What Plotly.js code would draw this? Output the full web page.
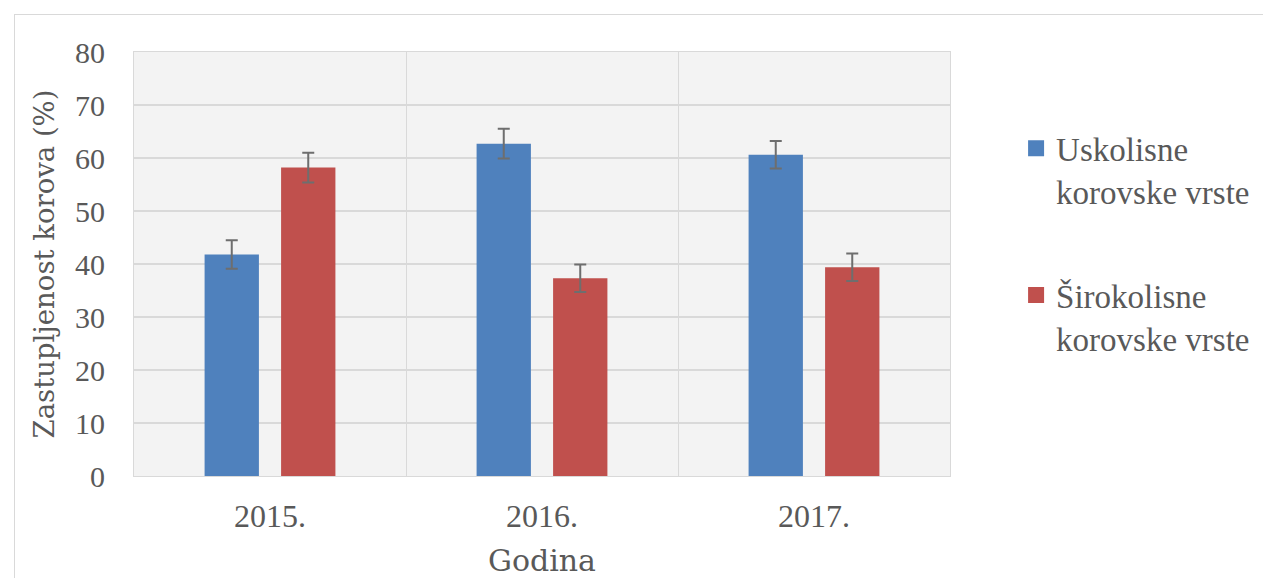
<!DOCTYPE html>
<html>
<head>
<meta charset="utf-8">
<script src="https://cdn.plot.ly/plotly-3.0.1.min.js"></script>
<style>
  html, body { margin: 0; padding: 0; background: #ffffff; }
  #wrap { position: relative; width: 1263px; height: 578px; overflow: hidden; }
  #chart { position: absolute; left: 0; top: 0; width: 1263px; height: 578px; }
  #frame { position: absolute; left: 14px; top: 14px; width: 1300px; height: 600px;
           border-left: 1px solid #d9d9d9; border-top: 1px solid #d9d9d9; pointer-events: none; }
</style>
</head>
<body>
<div id="wrap">
  <div id="chart"></div>
  <div id="frame"></div>
</div>
<script>
// Weed share by year: narrow-leaved vs broad-leaved species
const years = ['2015.', '2016.', '2017.'];
const uskolisne = [41.8, 62.7, 60.6];
const uskolisneErr = [2.7, 2.8, 2.6];
const sirokolisne = [58.2, 37.3, 39.4];
const sirokolisneErr = [2.8, 2.6, 2.6];
const seriesNames = ['Uskolisne<br>korovske vrste', 'Širokolisne<br>korovske vrste'];
const seriesColors = ['#4F81BD', '#C0504D'];
const yTicks = [0, 10, 20, 30, 40, 50, 60, 70, 80];

const serifNarrow = '"Liberation Serif", serif';
const serifWide = '"DejaVu Serif", serif';
const textColor = '#595959';
const errStyle = { type: 'data', visible: true, thickness: 2, width: 6, color: '#6e6e6e' };

const traces = [
  {
    type: 'bar', name: seriesNames[0], x: years, y: uskolisne,
    marker: { color: seriesColors[0] },
    error_y: Object.assign({ array: uskolisneErr }, errStyle),
    showlegend: false
  },
  {
    type: 'bar', name: seriesNames[1], x: years, y: sirokolisne,
    marker: { color: seriesColors[1] },
    error_y: Object.assign({ array: sirokolisneErr }, errStyle),
    showlegend: false
  }
];

// legend-only entries with larger square swatches
seriesNames.forEach(function (name, i) {
  traces.push({
    type: 'scatter', mode: 'markers', name: name,
    x: [null], y: [null],
    marker: { symbol: 'square', size: 17, color: seriesColors[i] },
    legendgroup: 'g' + i, showlegend: true, hoverinfo: 'skip'
  });
});

const layout = {
  width: 1263, height: 578,
  margin: { l: 134, r: 313, t: 52, b: 102, autoexpand: false },
  paper_bgcolor: 'rgba(0,0,0,0)',
  plot_bgcolor: '#f3f3f3',
  font: { family: serifNarrow, color: textColor, size: 24 },
  barmode: 'group',
  bargap: 0.4375,
  bargroupgap: 0.29,
  showlegend: true,
  legend: {
    xref: 'container', yref: 'container',
    x: 0.8045, xanchor: 'left', y: 0.792, yanchor: 'top',
    font: { family: serifNarrow, size: 33, color: textColor },
    traceorder: 'grouped', tracegroupgap: 58, valign: 'top',
    itemwidth: 30, itemsizing: 'trace', bgcolor: 'rgba(0,0,0,0)'
  },
  xaxis: {
    type: 'category',
    tickson: 'boundaries',
    showgrid: true, gridcolor: '#d9d9d9', gridwidth: 1,
    ticks: '', ticklabelstandoff: 12,
    showline: true, linecolor: '#d9d9d9', mirror: true,
    tickfont: { family: serifNarrow, size: 32, color: textColor },
    title: { text: 'Godina', font: { family: serifWide, size: 30, color: textColor }, standoff: 17 }
  },
  yaxis: {
    range: [0, 80], tickvals: yTicks,
    showgrid: true, gridcolor: '#d9d9d9', gridwidth: 2,
    zeroline: false, ticks: '', ticklabelstandoff: 22,
    showline: true, linecolor: '#d9d9d9', mirror: true,
    tickfont: { family: serifNarrow, size: 30, color: textColor },
    title: { text: 'Zastupljenost korova (%)', font: { family: serifWide, size: 27.5, color: textColor }, standoff: 12 }
  }
};

Plotly.newPlot('chart', traces, layout, { displayModeBar: false, staticPlot: true });
</script>
</body>
</html>
